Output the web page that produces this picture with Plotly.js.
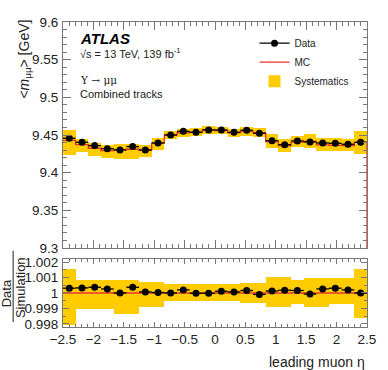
<!DOCTYPE html>
<html>
<head>
<meta charset="utf-8">
<script src="https://cdn.plot.ly/plotly-3.0.1.min.js"></script>
<style>html,body{margin:0;padding:0;background:#fff;}#chart{width:388px;height:370px;}</style>
</head>
<body>
<div id="chart"></div>
<script>
// ---- data ----
const binEdges = [-2.5, -2.2917, -2.0833, -1.875, -1.6667, -1.4583, -1.25, -1.0417, -0.8333, -0.625, -0.4167, -0.2083, 0, 0.2083, 0.4167, 0.625, 0.8333, 1.0417, 1.25, 1.4583, 1.6667, 1.875, 2.0833, 2.2917, 2.5];
const dataMass = [9.4457, 9.4403, 9.4359, 9.4319, 9.4302, 9.4346, 9.4302, 9.4394, 9.4500, 9.4549, 9.4536, 9.4567, 9.4567, 9.4536, 9.4563, 9.4523, 9.4425, 9.4372, 9.4421, 9.4408, 9.4394, 9.4390, 9.4377, 9.4403];
const mcMass = [9.4428, 9.4372, 9.4324, 9.4294, 9.4302, 9.4311, 9.4295, 9.4391, 9.4500, 9.4530, 9.4538, 9.4569, 9.4557, 9.4529, 9.4548, 9.4531, 9.4413, 9.4355, 9.4406, 9.4415, 9.4369, 9.4361, 9.4358, 9.4403];
const sysHigh = [9.4571, 9.4448, 9.4400, 9.4370, 9.4378, 9.4387, 9.4363, 9.4459, 9.4556, 9.4586, 9.4594, 9.4625, 9.4609, 9.4581, 9.4607, 9.4590, 9.4509, 9.4451, 9.4482, 9.4508, 9.4462, 9.4454, 9.4451, 9.4552];
const sysLow = [9.4232, 9.4272, 9.4224, 9.4194, 9.4176, 9.4185, 9.4208, 9.4304, 9.4450, 9.4480, 9.4488, 9.4519, 9.4507, 9.4479, 9.4486, 9.4469, 9.4326, 9.4268, 9.4336, 9.4328, 9.4282, 9.4291, 9.4288, 9.4248];
const ratio = [1.00031, 1.00033, 1.00037, 1.00026, 1.00000, 1.00037, 1.00007, 1.00003, 1.00000, 1.00020, 0.99998, 0.99998, 1.00011, 1.00007, 1.00016, 0.99991, 1.00013, 1.00018, 1.00016, 0.99993, 1.00026, 1.00031, 1.00020, 1.00000];
const ratioSysHigh = [1.00152, 1.00081, 1.00081, 1.00081, 1.00081, 1.00081, 1.00072, 1.00072, 1.00059, 1.00059, 1.00059, 1.00059, 1.00055, 1.00055, 1.00063, 1.00063, 1.00102, 1.00102, 1.00081, 1.00098, 1.00098, 1.00098, 1.00098, 1.00158];
const ratioSysLow = [0.99792, 0.99894, 0.99894, 0.99894, 0.99866, 0.99866, 0.99908, 0.99908, 0.99947, 0.99947, 0.99947, 0.99947, 0.99947, 0.99947, 0.99934, 0.99934, 0.99908, 0.99908, 0.99926, 0.99908, 0.99908, 0.99926, 0.99926, 0.99836];
const mcRatio = 1;
const xTickVals = [-2.5, -2, -1.5, -1, -0.5, 0, 0.5, 1, 1.5, 2, 2.5];
const xTickText = ['\u22122.5', '\u22122', '\u22121.5', '\u22121', '\u22120.5', '0', '0.5', '1', '1.5', '2', '2.5'];

// ---- derived tables for the library ----
const centers = dataMass.map((_, i) => (binEdges[i] + binEdges[i + 1]) / 2);
const widths = dataMass.map((_, i) => binEdges[i + 1] - binEdges[i]);
const halfW = widths.map(w => w / 2);
const etaMin = binEdges[0], etaMax = binEdges[binEdges.length - 1];
const yTopRange = [9.3, 9.6];
const yBotRange = [0.9978, 1.0022];

const YEL = '#ffcc00', RED = '#e8342a', FR = '#777';
const FONT = 'Liberation Sans, Arial, sans-serif';

const traces = [
  { type: 'bar', x: centers, y: sysHigh.map((h, i) => h - sysLow[i]), base: sysLow, width: widths,
    marker: { color: YEL, line: { width: 0 } }, name: 'Systematics', xaxis: 'x', yaxis: 'y', hoverinfo: 'skip' },
  { type: 'bar', x: centers, y: ratioSysHigh.map((h, i) => h - ratioSysLow[i]), base: ratioSysLow, width: widths,
    marker: { color: YEL, line: { width: 0 } }, showlegend: false, xaxis: 'x2', yaxis: 'y2', hoverinfo: 'skip' },
  { type: 'scatter', mode: 'lines', x: binEdges.concat([etaMax]), y: mcMass.concat([mcMass[mcMass.length - 1], yTopRange[0] - 1]),
    line: { color: RED, width: 1.3, shape: 'hv' }, name: 'MC', xaxis: 'x', yaxis: 'y' },
  { type: 'scatter', mode: 'lines', x: [etaMin, etaMax], y: [mcRatio, mcRatio],
    line: { color: RED, width: 1.3 }, showlegend: false, xaxis: 'x2', yaxis: 'y2' },
  { type: 'scatter', mode: 'markers', x: centers, y: dataMass,
    marker: { color: '#000', size: 7 }, error_x: { type: 'data', array: halfW, color: '#000', thickness: 1.3, width: 0 },
    showlegend: false, xaxis: 'x', yaxis: 'y' },
  { type: 'scatter', mode: 'markers', x: centers, y: ratio,
    marker: { color: '#000', size: 7 }, error_x: { type: 'data', array: halfW, color: '#000', thickness: 1.3, width: 0 },
    showlegend: false, xaxis: 'x2', yaxis: 'y2' },
  { type: 'scatter', mode: 'lines+markers', x: [null], y: [null], name: 'Data',
    marker: { color: '#000', size: 7 }, line: { color: '#000', width: 1.3 }, xaxis: 'x', yaxis: 'y' }
];

const axBase = {
  showline: true, mirror: 'ticks', linecolor: FR, linewidth: 1, ticks: 'inside', tickcolor: FR,
  ticklen: 8, tickwidth: 1, showgrid: false, zeroline: false,
  tickfont: { family: FONT, size: 13.5, color: '#222' }
};

const layout = {
  width: 388, height: 370,
  margin: { l: 63, r: 21, t: 22, b: 43 },
  paper_bgcolor: '#fff', plot_bgcolor: '#fff',
  barmode: 'overlay', bargap: 0,
  showlegend: true,
  legend: { x: 0.63, y: 0.978, xanchor: 'left', yanchor: 'top', traceorder: 'reversed',
    font: { family: FONT, size: 10, color: '#222' }, bgcolor: 'rgba(0,0,0,0)', itemwidth: 30, tracegroupgap: 0 },
  xaxis: Object.assign({}, axBase, { domain: [0, 1], anchor: 'y', range: [etaMin, etaMax], showticklabels: false,
    tickmode: 'array', tickvals: xTickVals, minor: { ticks: 'inside', ticklen: 4, dtick: 0.1, tick0: 0, tickcolor: FR } }),
  yaxis: Object.assign({}, axBase, { domain: [0.259, 1], anchor: 'x', range: yTopRange, dtick: 0.05, tick0: 9.3,
    ticklabelstandoff: 1, minor: { ticks: 'inside', ticklen: 4, dtick: 0.01, tick0: 9.3, tickcolor: FR } }),
  xaxis2: Object.assign({}, axBase, { domain: [0, 1], anchor: 'y2', range: [etaMin, etaMax],
    tickmode: 'array', tickvals: xTickVals, ticktext: xTickText, ticklen: 5,
    minor: { ticks: 'inside', ticklen: 3, dtick: 0.1, tick0: 0, tickcolor: FR } }),
  yaxis2: Object.assign({}, axBase, { domain: [0, 0.223], anchor: 'x2', range: yBotRange, dtick: 0.001, tick0: 1,
    ticklen: 6, ticklabelstandoff: 1, minor: { ticks: 'inside', ticklen: 3, dtick: 0.0005, tick0: 1, tickcolor: FR } }),
  annotations: [
    { xref: 'paper', yref: 'paper', x: 0.049, y: 0.9475, xanchor: 'left', yanchor: 'middle', showarrow: false,
      text: '<b><i>ATLAS</i></b>', font: { family: FONT, size: 15, color: '#000' } },
    { xref: 'paper', yref: 'paper', x: 0.049, y: 0.898, xanchor: 'left', yanchor: 'middle', showarrow: false,
      text: '\u221As = 13 TeV, 139 fb<sup>-1</sup>', font: { family: FONT, size: 11, color: '#222' } },
    { xref: 'paper', yref: 'paper', x: 0.049, y: 0.810, xanchor: 'left', yanchor: 'middle', showarrow: false,
      text: '\u03A5 \u2192 \u03BC\u03BC', font: { family: 'DejaVu Serif, serif', size: 10.5, color: '#222' } },
    { xref: 'paper', yref: 'paper', x: 0.049, y: 0.764, xanchor: 'left', yanchor: 'middle', showarrow: false,
      text: 'Combined tracks', font: { family: FONT, size: 11, color: '#222' } },
    { xref: 'paper', yref: 'paper', x: -0.128, y: 1.013, xanchor: 'center', yanchor: 'top', textangle: -90, showarrow: false,
      text: '&lt;<i>m</i><sub>\u03BC\u03BC</sub>&gt; [GeV]', font: { family: FONT, size: 14, color: '#222' } },
    { xref: 'paper', yref: 'paper', x: -0.186, y: 0.112, xanchor: 'center', yanchor: 'middle', textangle: -90, showarrow: false,
      text: 'Data', font: { family: FONT, size: 13, color: '#222' } },
    { xref: 'paper', yref: 'paper', x: -0.139, y: 0.13, xanchor: 'center', yanchor: 'middle', textangle: -90, showarrow: false,
      text: 'Simulation', font: { family: FONT, size: 13, color: '#222' } },
    { xref: 'paper', yref: 'paper', x: 1, y: -0.082, xanchor: 'right', yanchor: 'top', showarrow: false,
      text: 'leading muon \u03B7', font: { family: FONT, size: 14, color: '#222' } }
  ],
  shapes: [
    { type: 'line', xref: 'paper', yref: 'paper', x0: -0.164, x1: -0.164, y0: 0.016, y1: 0.25,
      line: { color: '#222', width: 1 } }
  ]
};

Plotly.newPlot('chart', traces, layout, { staticPlot: true, displayModeBar: false });
</script>
</body>
</html>
